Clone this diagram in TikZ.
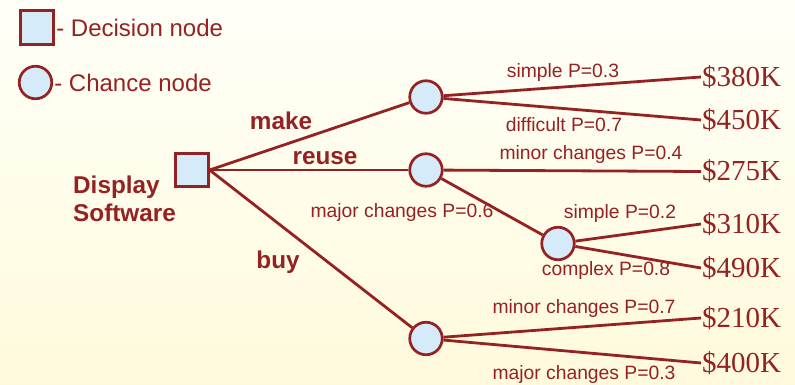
\documentclass[tikz,border=0pt]{standalone}
\usepackage{fontspec}
\setmainfont{Liberation Serif}
\setsansfont{Liberation Sans}
\usetikzlibrary{positioning}
\definecolor{treered}{HTML}{952222}
\definecolor{nodeblue}{HTML}{D6EBFA}
\definecolor{bgtop}{HTML}{FFFFF8}
\definecolor{bgbottom}{HTML}{FFFADC}

\begin{document}
\begin{tikzpicture}[x=1pt, y=-1pt,
    decbox/.style={draw=treered, line width=2.7pt, fill=nodeblue, minimum size=32.5pt, inner sep=0pt},
    chancenode/.style={circle, draw=treered, line width=2.7pt, fill=nodeblue, minimum size=32.5pt, inner sep=0pt},
    branch/.style={draw=treered, line width=2.8pt},
    payoff/.style={anchor=west, text=treered, font=\fontsize{29}{30}\selectfont, inner sep=1pt},
    problabel/.style={text=treered, font=\sffamily\fontsize{19.3}{21}\selectfont, inner sep=0pt},
    choicelabel/.style={text=treered, font=\sffamily\bfseries\fontsize{24.3}{28}\selectfont, inner sep=0pt},
    legendtext/.style={text=treered, font=\sffamily\fontsize{24}{26}\selectfont, inner sep=1pt}
]
% Background
\shade[top color=bgtop, bottom color=bgbottom] (0,0) rectangle (795,385);

% Legend
\node[decbox, minimum size=33.5pt] (legdec) at (37,27.5) {};
\node[legendtext, right=0pt of legdec] (legdectext) {- Decision node};
\node[chancenode] (legchance) at (35.5,82.5) {};
\node[legendtext, right=0pt of legchance] (legchancetext) {- Chance node};

% Decision and chance nodes
\node[decbox] (dec) at (192,170) {};
\node[choicelabel, anchor=west, align=left] (declabel) at (73,199) {Display\\Software};
\node[chancenode] (cmake) at (426,97) {};
\node[chancenode] (creuse) at (426,170) {};
\node[chancenode] (cmajor) at (558,243.5) {};
\node[chancenode] (cbuy) at (426,338.5) {};

% Payoffs
\node[payoff] (v380) at (701,77) {\$380K};
\node[payoff] (v450) at (701,120) {\$450K};
\node[payoff] (v275) at (701,171.5) {\$275K};
\node[payoff] (v310) at (701,224) {\$310K};
\node[payoff] (v490) at (701,268) {\$490K};
\node[payoff] (v210) at (701,318) {\$210K};
\node[payoff] (v400) at (701,363) {\$400K};

% Branches
\draw[branch] (dec.east) -- (cmake);
\draw[branch] (dec.east) -- (creuse);
\draw[branch] (dec.east) -- (cbuy);
\draw[branch] (cmake) -- (v380.west);
\draw[branch] (cmake) -- (v450.west);
\draw[branch] (creuse) -- (v275.west);
\draw[branch] (creuse) -- (cmajor);
\draw[branch] (cmajor) -- (v310.west);
\draw[branch] (cmajor) -- (v490.west);
\draw[branch] (cbuy) -- (v210.west);
\draw[branch] (cbuy) -- (v400.west);

% Branch labels
\node[choicelabel] (lmake) at (281,121) {make};
\node[choicelabel] (lreuse) at (325,158) {reuse};
\node[choicelabel] (lbuy) at (278,262) {buy};
\node[problabel] (p380) at (563,73) {simple P=0.3};
\node[problabel] (p450) at (564,125) {difficult P=0.7};
\node[problabel] (p275) at (591,155) {minor changes P=0.4};
\node[problabel] (pmajor) at (402,213) {major changes P=0.6};
\node[problabel] (p310) at (620,214) {simple P=0.2};
\node[problabel] (p490) at (606,271) {complex P=0.8};
\node[problabel] (p210) at (584,309) {minor changes P=0.7};
\node[problabel] (p400) at (584,375) {major changes P=0.3};
\end{tikzpicture}
\end{document}
